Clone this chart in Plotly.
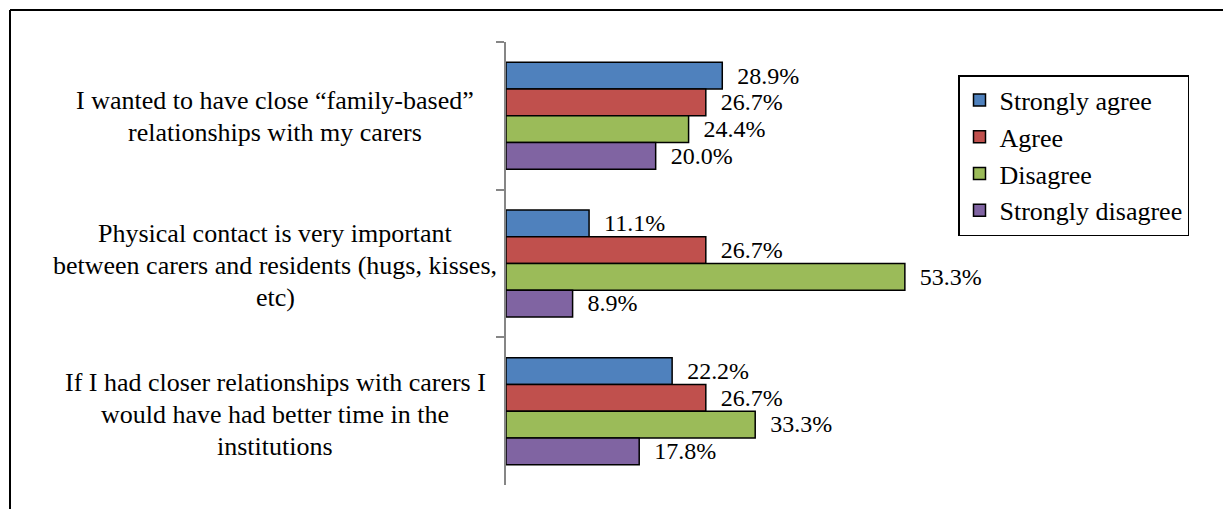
import plotly.graph_objects as go

categories = [
    "I wanted to have close “family-based” relationships with my carers",
    "Physical contact is very important between carers and residents (hugs, kisses, etc)",
    "If I had closer relationships with carers I would have had better time in the institutions",
]
category_lines = [
    ["I wanted to have close “family-based”", "relationships with my carers"],
    ["Physical contact is very important", "between carers and residents (hugs, kisses,", "etc)"],
    ["If I had closer relationships with carers I", "would have had better time in the", "institutions"],
]
series_names = ["Strongly agree", "Agree", "Disagree", "Strongly disagree"]
strongly_agree = [0.289, 0.111, 0.222]
agree = [0.267, 0.267, 0.267]
disagree = [0.244, 0.533, 0.333]
strongly_disagree = [0.200, 0.089, 0.178]
series_values = [strongly_agree, agree, disagree, strongly_disagree]
colors = ["#4F81BD", "#C0504D", "#9BBB59", "#8064A2"]

W, H = 1223, 509
L, R, T, B = 506, 268, 42, 24
PW, PH = W - L - R, H - T - B
FONT = "Liberation Serif"
FS = 26


def px_x(p):
    return (p - L) / PW


def px_y(p):
    return 1 - (p - T) / PH


fig = go.Figure()
for i, (name, vals) in enumerate(zip(series_names, series_values)):
    fig.add_trace(go.Bar(
        y=categories, x=vals, name=name, orientation="h",
        marker=dict(color=colors[i], line=dict(color="black", width=1.5)),
        text=vals, texttemplate="  %{x:.1%}", textposition="outside",
        textfont=dict(family=FONT, size=FS, color="black"),
        cliponaxis=False, legendgroup=f"g{i}",
    ))

annotations = []
for k, (cat, lines) in enumerate(zip(categories, category_lines)):
    n = len(lines)
    for j, line in enumerate(lines):
        annotations.append(dict(
            x=px_x(275), xref="paper", y=cat, yref="y",
            xanchor="center", yanchor="middle",
            yshift=-(j - (n - 1) / 2) * 32 - 1 - k,
            text=line, showarrow=False,
            font=dict(family=FONT, size=FS, color="black"),
        ))

shapes = [
    dict(type="line", xref="paper", yref="paper",
         x0=px_x(10), x1=px_x(1240), y0=px_y(10), y1=px_y(10),
         line=dict(color="black", width=2)),
    dict(type="line", xref="paper", yref="paper",
         x0=px_x(10), x1=px_x(10), y0=px_y(10), y1=px_y(520),
         line=dict(color="black", width=2)),
]

fig.update_layout(
    width=W, height=H,
    margin=dict(l=L, r=R, t=T, b=B, autoexpand=False),
    paper_bgcolor="white", plot_bgcolor="white",
    barmode="group", bargap=0.275, bargroupgap=0,
    font=dict(family=FONT, size=FS, color="black"),
    xaxis=dict(range=[0, 0.6], visible=False, fixedrange=True),
    yaxis=dict(autorange="reversed", showticklabels=False, showline=True,
               linecolor="#868686", linewidth=1.5, ticks="outside", ticklen=8,
               tickcolor="#868686", tickwidth=1.5, tickson="boundaries",
               showgrid=False, zeroline=False, fixedrange=True),
    legend=dict(x=px_x(958), y=px_y(75), xanchor="left", yanchor="top",
                bordercolor="black", borderwidth=1.5, bgcolor="white",
                font=dict(family=FONT, size=FS, color="black"),
                traceorder="normal", tracegroupgap=18),
    annotations=annotations, shapes=shapes,
    showlegend=True,
)

fig.write_html("out.html", config={"displayModeBar": False},
               post_script="document.body.style.margin='0';document.body.style.overflow='hidden';")
